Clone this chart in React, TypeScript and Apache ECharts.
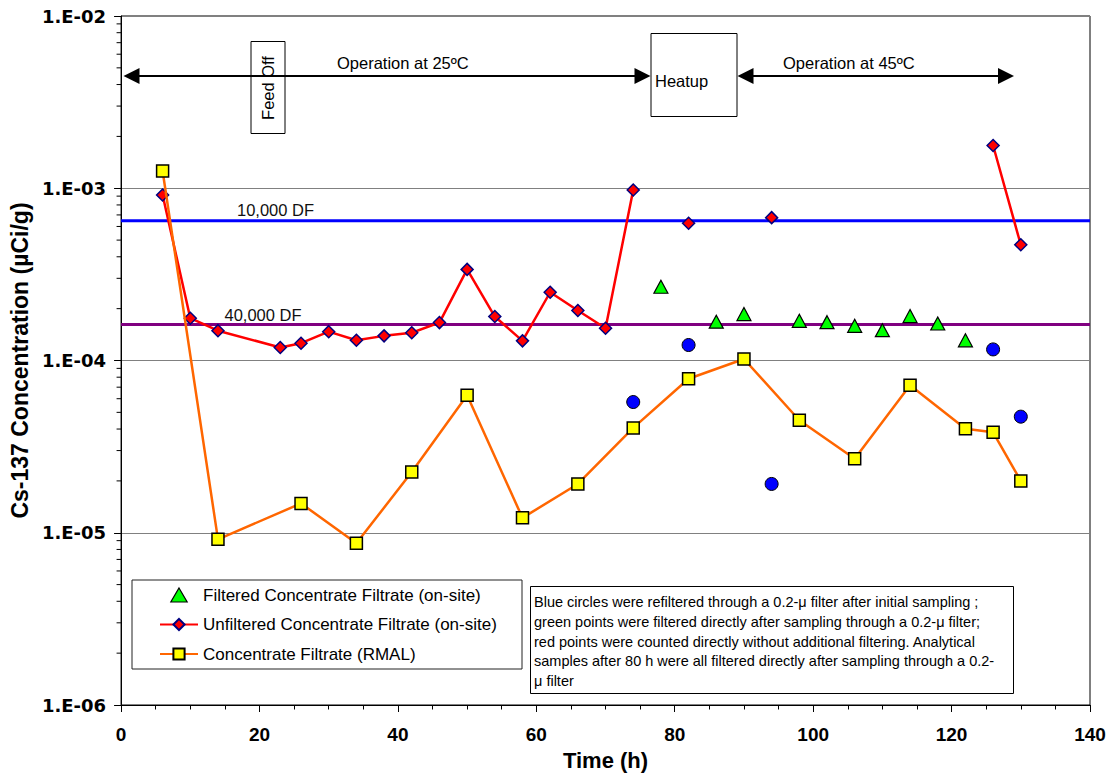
import React, { useEffect, useRef } from "react";
import * as echarts from "echarts";

// ---- Data ----
const timeUnfiltered = [6, 10, 14, 23, 26, 30, 34, 38, 42, 46, 50, 54, 58, 62, 66, 70, 74, 78, 82, 88, 94, 110, 126, 130];
const unfiltered = [9.14e-4, 1.76e-4, 1.49e-4, 1.19e-4, 1.26e-4, 1.47e-4, 1.31e-4, 1.39e-4, 1.45e-4, 1.66e-4, 3.38e-4, 1.8e-4, 1.3e-4, 2.49e-4, 1.95e-4, 1.54e-4, 9.77e-4, null, 6.26e-4, null, 6.75e-4, null, 1.77e-3, 4.7e-4];

const timeFiltered = [78, 86, 90, 98, 102, 106, 110, 114, 118, 122];
const filtered = [2.68e-4, 1.68e-4, 1.86e-4, 1.7e-4, 1.67e-4, 1.59e-4, 1.5e-4, 1.81e-4, 1.64e-4, 1.31e-4];

const timeRefiltered = [74, 82, 94, 126, 130];
const refiltered = [5.74e-5, 1.23e-4, 1.92e-5, 1.16e-4, 4.72e-5];

const timeRmal = [6, 14, 26, 34, 42, 50, 58, 66, 74, 82, 90, 98, 106, 114, 122, 126, 130];
const rmal = [1.26e-3, 9.16e-6, 1.48e-5, 8.69e-6, 2.25e-5, 6.28e-5, 1.22e-5, 1.92e-5, 4.06e-5, 7.84e-5, 1.02e-4, 4.5e-5, 2.69e-5, 7.18e-5, 4.02e-5, 3.83e-5, 2.0e-5];

const dfTime = [0, 140];
const df10000 = 6.48e-4;
const df40000 = 1.62e-4;

const decades = [1e-6, 1e-5, 1e-4, 1e-3];
const minorMultipliers = [2, 3, 4, 5, 6, 7, 8, 9];

const seriesNames = {
  filtered: "Filtered Concentrate Filtrate (on-site)",
  unfiltered: "Unfiltered Concentrate Filtrate (on-site)",
  rmal: "Concentrate Filtrate (RMAL)",
  refiltered: "Refiltered",
};

const noteLines = [
  "Blue circles were refiltered through a 0.2-\u03bc filter after initial sampling ;",
  "green points were filtered directly after sampling through a 0.2-\u03bc filter;",
  "red points were counted directly without additional filtering. Analytical",
  "samples after 80 h were all filtered directly after sampling through a 0.2-",
  "\u03bc filter",
];

const pair = (xs: number[], ys: (number | null)[]) =>
  xs.map((x, i) => [x, ys[i] === null ? "-" : ys[i]]);

const FONT = "Arial, 'Liberation Sans', Helvetica, sans-serif";

function fmtExp(v: number) {
  const e = Math.round(Math.log10(v));
  return "1.E" + (e < 0 ? "-" : "+") + String(Math.abs(e)).padStart(2, "0");
}

const TRIANGLE_ICON = "path://M7,0 L14,12 L0,12 Z";

export default function App() {
  const ref = useRef<HTMLDivElement>(null);

  useEffect(() => {
    if (!ref.current) return;
    const chart = echarts.init(ref.current, undefined, { renderer: "svg" });

    const minorTicks: number[][] = [];
    decades.forEach((d) => minorMultipliers.forEach((m) => minorTicks.push([0, m * d])));

    const arrowY = 76;
    const graphic: any[] = [
      // Feed Off box
      { type: "rect", shape: { x: 251, y: 41.5, width: 34, height: 92 }, style: { fill: "#fff", stroke: "#000", lineWidth: 1 }, z: 10 },
      {
        type: "text", x: 268, y: 88, rotation: Math.PI / 2,
        style: { text: "Feed Off", font: `16.5px ${FONT}`, fill: "#000", align: "center", verticalAlign: "middle" }, z: 11,
      },
      // Heatup box
      { type: "rect", shape: { x: 651, y: 33.5, width: 86, height: 83 }, style: { fill: "#fff", stroke: "#000", lineWidth: 1 }, z: 10 },
      { type: "text", x: 655, y: 81, style: { text: "Heatup", font: `16.5px ${FONT}`, fill: "#000", align: "left", verticalAlign: "middle" }, z: 11 },
      // Left double arrow
      { type: "line", shape: { x1: 135, y1: arrowY, x2: 640, y2: arrowY }, style: { stroke: "#000", lineWidth: 2 }, z: 12 },
      { type: "polygon", shape: { points: [[123.5, arrowY], [139.5, arrowY - 8], [139.5, arrowY + 8]] }, style: { fill: "#000" }, z: 12 },
      { type: "polygon", shape: { points: [[650.5, arrowY], [634.5, arrowY - 8], [634.5, arrowY + 8]] }, style: { fill: "#000" }, z: 12 },
      { type: "text", x: 337, y: 62.5, style: { text: "Operation at 25\u00baC", font: `16.5px ${FONT}`, fill: "#000", align: "left", verticalAlign: "middle" }, z: 12 },
      // Right double arrow
      { type: "line", shape: { x1: 750, y1: arrowY, x2: 1002, y2: arrowY }, style: { stroke: "#000", lineWidth: 2 }, z: 12 },
      { type: "polygon", shape: { points: [[737.5, arrowY], [753.5, arrowY - 8], [753.5, arrowY + 8]] }, style: { fill: "#000" }, z: 12 },
      { type: "polygon", shape: { points: [[1014, arrowY], [998, arrowY - 8], [998, arrowY + 8]] }, style: { fill: "#000" }, z: 12 },
      { type: "text", x: 783, y: 62.5, style: { text: "Operation at 45\u00baC", font: `16.5px ${FONT}`, fill: "#000", align: "left", verticalAlign: "middle" }, z: 12 },
      // DF labels
      { type: "text", x: 237, y: 210, style: { text: "10,000 DF", font: `16.5px ${FONT}`, fill: "#111", align: "left", verticalAlign: "middle" }, z: 12 },
      { type: "text", x: 224.5, y: 314.5, style: { text: "40,000 DF", font: `16.5px ${FONT}`, fill: "#111", align: "left", verticalAlign: "middle" }, z: 12 },
      // Legend box
      { type: "rect", shape: { x: 132, y: 580, width: 390, height: 89 }, style: { fill: "none", stroke: "#222", lineWidth: 1 }, z: 1 },
      // Note box
      { type: "rect", shape: { x: 530.5, y: 586.5, width: 483, height: 107 }, style: { fill: "#fff", stroke: "#000", lineWidth: 1 }, z: 10 },
      {
        type: "text", x: 534, y: 592.5,
        style: { text: noteLines.join("\n"), font: `14.5px ${FONT}`, lineHeight: 19.7, fill: "#000", align: "left", verticalAlign: "top" }, z: 11,
      },
    ];

    chart.setOption({
      animation: false,
      backgroundColor: "#fff",
      grid: { left: 121, right: 22, top: 16, bottom: 71, show: true, borderColor: "#000", borderWidth: 1, containLabel: false },
      legend: {
        data: [
          { name: seriesNames.filtered, icon: TRIANGLE_ICON, itemStyle: { color: "#00FF00", borderColor: "#000", borderWidth: 1.2 } },
          { name: seriesNames.unfiltered },
          { name: seriesNames.rmal },
        ],
        orient: "vertical",
        left: 159,
        top: 585,
        padding: 0,
        itemWidth: 38,
        itemHeight: 14,
        itemGap: 9.5,
        symbolKeepAspect: true,
        textStyle: { fontFamily: FONT, fontSize: 17, color: "#000", lineHeight: 20 },
      },
      xAxis: {
        type: "value",
        min: 0,
        max: 140,
        interval: 20,
        name: "Time (h)",
        nameLocation: "middle",
        nameGap: 44,
        nameTextStyle: { fontFamily: FONT, fontSize: 22, fontWeight: "bold", color: "#000" },
        axisLine: { lineStyle: { color: "#000", width: 1 } },
        axisTick: { length: 7, lineStyle: { color: "#000" } },
        minorTick: { show: true, splitNumber: 4, length: 4.5, lineStyle: { color: "#000" } },
        splitLine: { show: false },
        axisLabel: { margin: 20, fontFamily: FONT, fontSize: 19, fontWeight: "bold", color: "#000" },
      },
      yAxis: {
        type: "log",
        logBase: 10,
        min: 1e-6,
        max: 1e-2,
        name: "Cs-137 Concentration (\u00b5Ci/g)",
        nameLocation: "middle",
        nameGap: 82,
        nameTextStyle: { fontFamily: FONT, fontSize: 23, fontWeight: "bold", color: "#000" },
        axisLine: { show: true, lineStyle: { color: "#000", width: 1 } },
        axisTick: { show: true, length: 7, lineStyle: { color: "#000" } },
        splitLine: { show: true, lineStyle: { color: "#808080", width: 1 } },
        axisLabel: { margin: 15, fontFamily: "'DejaVu Sans', sans-serif", fontSize: 18, fontWeight: "bold", color: "#000", formatter: (v: number) => fmtExp(v) },
      },
      graphic,
      series: [
        {
          name: "10,000 DF", type: "line", data: pair(dfTime, [df10000, df10000]), symbol: "none",
          lineStyle: { color: "#0000FF", width: 3 }, z: 1, silent: true,
        },
        {
          name: "40,000 DF", type: "line", data: pair(dfTime, [df40000, df40000]), symbol: "none",
          lineStyle: { color: "#800080", width: 3 }, z: 1, silent: true,
        },
        {
          name: "minorTicks", type: "custom", data: minorTicks, clip: false, silent: true, z: 5,
          renderItem: (params: any, api: any) => {
            const p = api.coord([api.value(0), api.value(1)]);
            return { type: "line", shape: { x1: p[0] - 4.5, y1: p[1], x2: p[0], y2: p[1] }, style: { stroke: "#000", lineWidth: 1 } };
          },
        },
        {
          name: seriesNames.unfiltered, type: "line", data: pair(timeUnfiltered, unfiltered), connectNulls: false,
          symbol: "diamond", symbolSize: 12, showAllSymbol: true,
          lineStyle: { color: "#FF0000", width: 2.5 },
          itemStyle: { color: "#FF0000", borderColor: "#000080", borderWidth: 1.5 },
          z: 3,
        },
        {
          name: seriesNames.rmal, type: "line", data: pair(timeRmal, rmal),
          symbol: "rect", symbolSize: 12, showAllSymbol: true,
          lineStyle: { color: "#FF6600", width: 2.5 },
          itemStyle: { color: "#FFFF00", borderColor: "#000", borderWidth: 1.5 },
          z: 4,
        },
        {
          name: seriesNames.filtered, type: "scatter", data: pair(timeFiltered, filtered),
          symbol: "triangle", symbolSize: [14, 13],
          itemStyle: { color: "#00FF00", borderColor: "#000", borderWidth: 1.2, opacity: 1 },
          z: 4,
        },
        {
          name: seriesNames.refiltered, type: "scatter", data: pair(timeRefiltered, refiltered),
          symbol: "circle", symbolSize: 13,
          itemStyle: { color: "#0000FF", borderColor: "#000", borderWidth: 1, opacity: 1 },
          z: 4,
        },
      ],
    });

    return () => chart.dispose();
  }, []);

  return <div ref={ref} style={{ position: "absolute", left: 0, top: 0, width: 1112, height: 776 }} />;
}
